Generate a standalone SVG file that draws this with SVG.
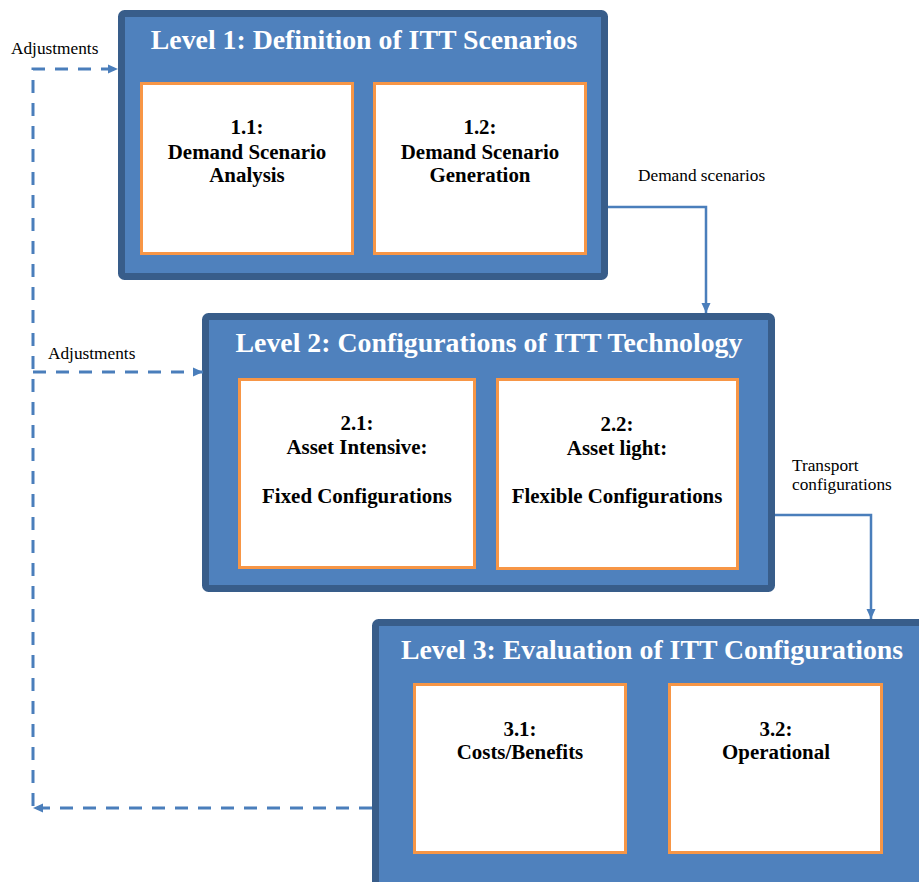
<svg xmlns="http://www.w3.org/2000/svg" width="919" height="882" viewBox="0 0 919 882">
  <style>
    .level { fill: #4F81BD; stroke: #385D8A; stroke-width: 7; }
    .sub { fill: #FFFFFF; stroke: #F79646; stroke-width: 3; }
    .title { font-family: "Liberation Serif", "Times New Roman", serif; font-weight: bold; font-size: 27.8px; fill: #FFFFFF; text-anchor: middle; }
    .subtext { font-family: "Liberation Serif", "Times New Roman", serif; font-weight: bold; font-size: 20.9px; fill: #000000; text-anchor: middle; }
    .label { font-family: "Liberation Serif", "Times New Roman", serif; font-size: 17.3px; fill: #000000; }
    .solid { fill: none; stroke: #4A7EBB; stroke-width: 2.5; }
    .dashed { fill: none; stroke: #4A7EBB; stroke-width: 3; stroke-dasharray: 13 10; }
  </style>
  <defs>
    <marker id="arrow" markerUnits="userSpaceOnUse" markerWidth="12" markerHeight="12" viewBox="0 0 12 12" refX="11" refY="6" orient="auto">
      <path d="M1,1.5 L11,6 L1,10.5 Z" fill="#4A7EBB"/>
    </marker>
  </defs>
  <rect width="919" height="882" fill="#FFFFFF"/>

  <g id="level1">
    <rect class="level" x="121.5" y="13.5" width="483" height="263" rx="3"/>
    <text class="title" x="364" y="49">Level 1: Definition of ITT Scenarios</text>
    <g id="node-1-1">
      <rect class="sub" x="141.5" y="83.5" width="211" height="170"/>
      <text class="subtext" x="247" y="134">1.1:</text>
      <text class="subtext" x="247" y="159">Demand Scenario</text>
      <text class="subtext" x="247" y="182">Analysis</text>
    </g>
    <g id="node-1-2">
      <rect class="sub" x="374.5" y="83.5" width="211" height="170"/>
      <text class="subtext" x="480" y="134">1.2:</text>
      <text class="subtext" x="480" y="159">Demand Scenario</text>
      <text class="subtext" x="480" y="182">Generation</text>
    </g>
  </g>

  <g id="level2">
    <rect class="level" x="205.5" y="316.5" width="566" height="272" rx="3"/>
    <text class="title" x="489" y="352">Level 2: Configurations of ITT Technology</text>
    <g id="node-2-1">
      <rect class="sub" x="239.5" y="379.5" width="235" height="188"/>
      <text class="subtext" x="357" y="430">2.1:</text>
      <text class="subtext" x="357" y="454">Asset Intensive:</text>
      <text class="subtext" x="357" y="503">Fixed Configurations</text>
    </g>
    <g id="node-2-2">
      <rect class="sub" x="497.5" y="379.5" width="240" height="189"/>
      <text class="subtext" x="617" y="431">2.2:</text>
      <text class="subtext" x="617" y="455">Asset light:</text>
      <text class="subtext" x="617" y="503">Flexible Configurations</text>
    </g>
  </g>

  <g id="level3">
    <rect class="level" x="375.5" y="622.5" width="553" height="280" rx="3"/>
    <text class="title" x="652" y="659">Level 3: Evaluation of ITT Configurations</text>
    <g id="node-3-1">
      <rect class="sub" x="414.5" y="684.5" width="211" height="168"/>
      <text class="subtext" x="520" y="736">3.1:</text>
      <text class="subtext" x="520" y="759">Costs/Benefits</text>
    </g>
    <g id="node-3-2">
      <rect class="sub" x="669.5" y="684.5" width="212" height="168"/>
      <text class="subtext" x="776" y="736">3.2:</text>
      <text class="subtext" x="776" y="759">Operational</text>
    </g>
  </g>

  <g id="connectors">
    <path class="solid" d="M608,207 H706 V313" marker-end="url(#arrow)"/>
    <path class="solid" d="M775,515 H871 V619" marker-end="url(#arrow)"/>
    <path class="dashed" d="M372,808 H33" marker-end="url(#arrow)"/>
    <path class="dashed" d="M33,806 V69 H118" marker-end="url(#arrow)"/>
    <path class="dashed" d="M33,372 H203" marker-end="url(#arrow)"/>
    <text class="label" x="638" y="181">Demand scenarios</text>
    <text class="label" x="792" y="471">Transport</text>
    <text class="label" x="792" y="490">configurations</text>
    <text class="label" x="11" y="54">Adjustments</text>
    <text class="label" x="48" y="359">Adjustments</text>
  </g>
</svg>
